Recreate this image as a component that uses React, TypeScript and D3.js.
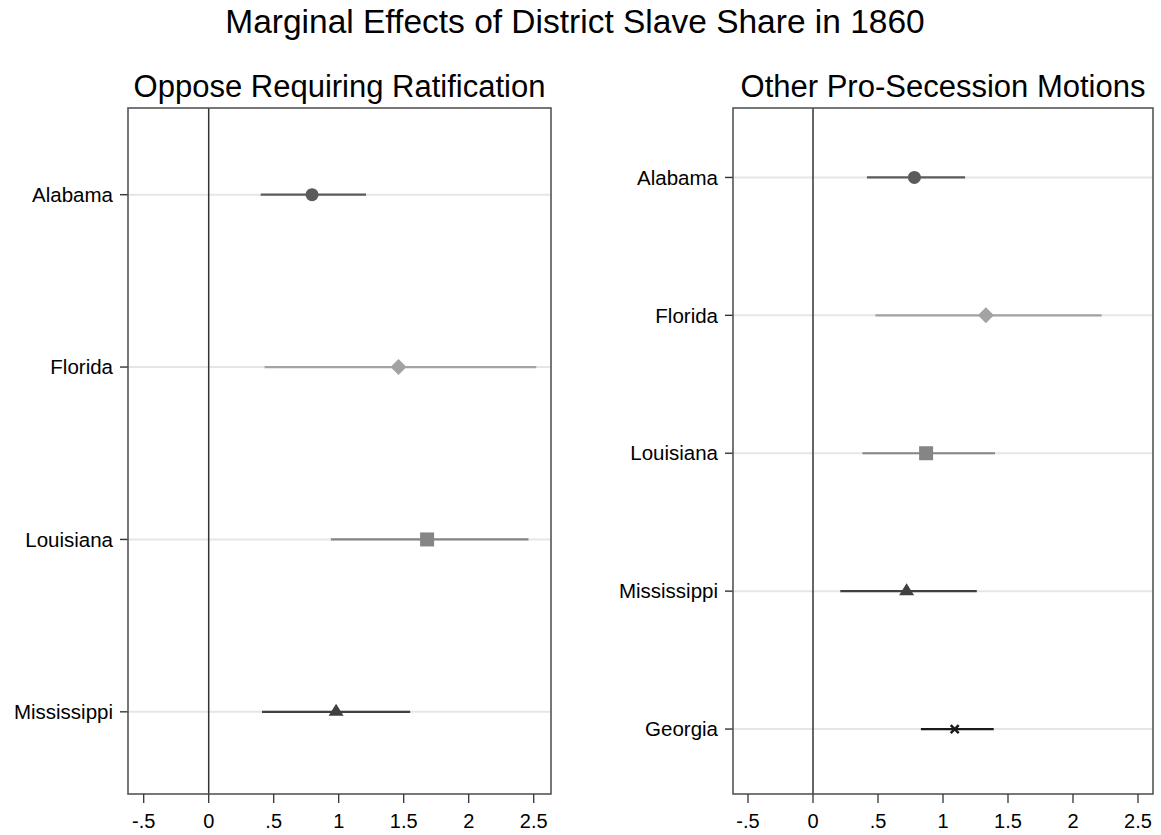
import React from "react";
import * as d3 from "d3";

const leftStates = ["Alabama", "Florida", "Louisiana", "Mississippi"];
const leftEst = [0.795, 1.46, 1.68, 0.98];
const leftLo = [0.40, 0.43, 0.94, 0.41];
const leftHi = [1.21, 2.52, 2.46, 1.55];

const rightStates = ["Alabama", "Florida", "Louisiana", "Mississippi", "Georgia"];
const rightEst = [0.78, 1.33, 0.87, 0.72, 1.09];
const rightLo = [0.415, 0.48, 0.38, 0.21, 0.83];
const rightHi = [1.17, 2.22, 1.40, 1.26, 1.39];

const xTicks = [-0.5, 0, 0.5, 1, 1.5, 2, 2.5];
const tickLabel = (v: number) => {
  if (v === 0) return "0";
  const s = String(Math.abs(v)).replace(/^0\./, ".");
  return (v < 0 ? "-" : "") + s;
};

const stateStyle: Record<string, { shape: string; color: string }> = {
  Alabama: { shape: "circle", color: "#5b5b5b" },
  Florida: { shape: "diamond", color: "#a3a3a3" },
  Louisiana: { shape: "square", color: "#858585" },
  Mississippi: { shape: "triangle", color: "#404040" },
  Georgia: { shape: "x", color: "#1a1a1a" },
};

const FONT = "'Liberation Sans', Arial, Helvetica, sans-serif";

function Marker({ shape, color, x, y }: { shape: string; color: string; x: number; y: number }) {
  if (shape === "circle") return <circle cx={x} cy={y} r={6.5} fill={color} />;
  if (shape === "diamond")
    return <path d={`M${x},${y - 8}L${x + 8},${y}L${x},${y + 8}L${x - 8},${y}Z`} fill={color} />;
  if (shape === "square") return <rect x={x - 7} y={y - 7} width={14} height={14} fill={color} />;
  if (shape === "triangle")
    return <path d={`M${x},${y - 8}L${x + 7.5},${y + 4}L${x - 7.5},${y + 4}Z`} fill={color} />;
  return (
    <path
      d={`M${x - 4},${y - 4}L${x + 4},${y + 4}M${x + 4},${y - 4}L${x - 4},${y + 4}`}
      stroke={color}
      strokeWidth={2.5}
    />
  );
}

function Panel({
  title,
  states,
  est,
  lo,
  hi,
  left,
  right,
  zeroX,
}: {
  title: string;
  states: string[];
  est: number[];
  lo: number[];
  hi: number[];
  left: number;
  right: number;
  zeroX: number;
}) {
  const top = 108;
  const bottom = 794;
  const x = d3
    .scaleLinear()
    .domain([(left - zeroX) / 130, (right - zeroX) / 130])
    .range([left, right]);
  const y = d3.scaleBand().domain(states).range([top + 0.5, bottom + 4]).paddingInner(0).paddingOuter(0);
  const cy = (s: string) => (y(s) as number) + y.bandwidth() / 2;
  return (
    <g>
      <text
        x={(left + right) / 2}
        y={top - 11}
        textAnchor="middle"
        fontSize={31}
        fontFamily={FONT}
        fill="#000"
      >
        {title}
      </text>
      {states.map((s) => (
        <g key={s}>
          <line x1={left - 8} x2={right} y1={cy(s)} y2={cy(s)} stroke="#e6e6e6" strokeWidth={2} />
          <line x1={left - 8} x2={left} y1={cy(s)} y2={cy(s)} stroke="#333" strokeWidth={1.3} />
          <text
            x={left - 15}
            y={cy(s)}
            dy="0.35em"
            textAnchor="end"
            fontSize={20.5}
            fontFamily={FONT}
            fill="#000"
          >
            {s}
          </text>
        </g>
      ))}
      <line x1={x(0)} x2={x(0)} y1={top} y2={bottom} stroke="#333" strokeWidth={1.5} />
      {states.map((s, i) => {
        const st = stateStyle[s];
        return (
          <g key={s + "m"}>
            <line x1={x(lo[i])} x2={x(hi[i])} y1={cy(s)} y2={cy(s)} stroke={st.color} strokeWidth={2.2} />
            <Marker shape={st.shape} color={st.color} x={x(est[i])} y={cy(s)} />
          </g>
        );
      })}
      <rect
        x={left}
        y={top}
        width={right - left}
        height={bottom - top}
        fill="none"
        stroke="#555"
        strokeWidth={1.6}
      />
      {xTicks.map((t) => (
        <g key={t}>
          <line x1={x(t)} x2={x(t)} y1={bottom} y2={bottom + 9} stroke="#333" strokeWidth={1.3} />
          <text
            x={x(t)}
            y={bottom + 34}
            textAnchor="middle"
            fontSize={20}
            fontFamily={FONT}
            fill="#000"
          >
            {tickLabel(t)}
          </text>
        </g>
      ))}
    </g>
  );
}

export default function App() {
  return (
    <svg width={1161} height={835} style={{ position: "absolute", left: 0, top: 0, background: "#fff" }}>
      <rect width={1161} height={835} fill="#fff" />
      <text x={575} y={33} textAnchor="middle" fontSize={33.5} fontFamily={FONT} fill="#000">
        Marginal Effects of District Slave Share in 1860
      </text>
      <Panel
        title="Oppose Requiring Ratification"
        states={leftStates}
        est={leftEst}
        lo={leftLo}
        hi={leftHi}
        left={128}
        right={551}
        zeroX={208.7}
      />
      <Panel
        title="Other Pro-Secession Motions"
        states={rightStates}
        est={rightEst}
        lo={rightLo}
        hi={rightHi}
        left={733}
        right={1153}
        zeroX={813}
      />
    </svg>
  );
}
